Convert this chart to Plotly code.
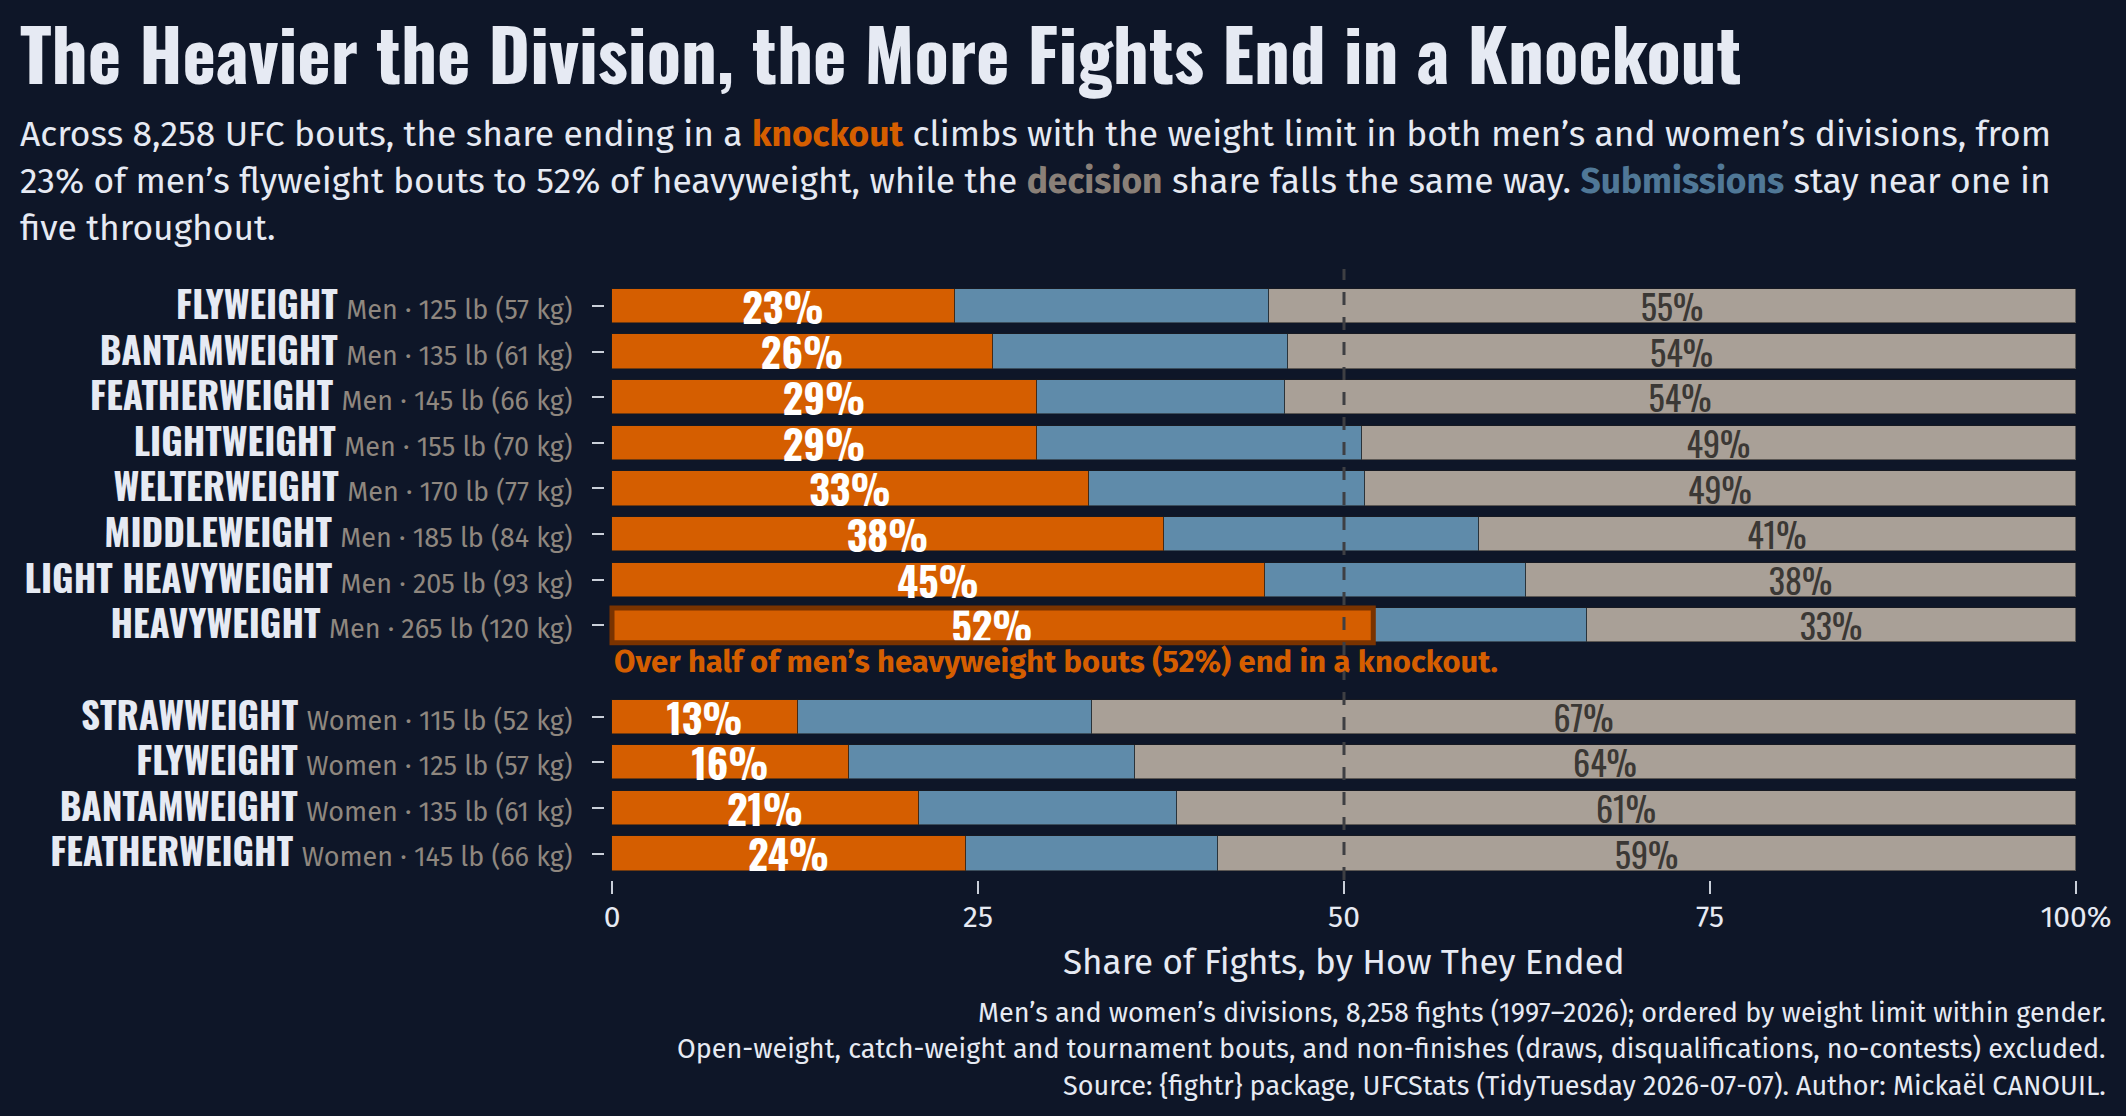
import plotly.graph_objects as go

# ---------------- data ----------------
division = ["FLYWEIGHT", "BANTAMWEIGHT", "FEATHERWEIGHT", "LIGHTWEIGHT", "WELTERWEIGHT",
            "MIDDLEWEIGHT", "LIGHT HEAVYWEIGHT", "HEAVYWEIGHT",
            "STRAWWEIGHT", "FLYWEIGHT", "BANTAMWEIGHT", "FEATHERWEIGHT"]
gender = ["Men"] * 8 + ["Women"] * 4
limit_lb = [125, 135, 145, 155, 170, 185, 205, 265, 115, 125, 135, 145]
limit_kg = [57, 61, 66, 70, 77, 84, 93, 120, 52, 57, 61, 66]
ko_pct = [23.4, 26.0, 29.0, 29.0, 32.6, 37.7, 44.6, 52.0, 12.7, 16.2, 21.0, 24.2]
sub_pct = [21.5, 20.2, 17.0, 22.2, 18.8, 21.5, 17.8, 14.6, 20.1, 19.5, 17.6, 17.2]
dec_pct = [55.1, 53.8, 54.0, 48.8, 48.6, 40.8, 37.6, 33.4, 67.2, 64.3, 61.4, 58.6]
x_ticks = [0, 25, 50, 75, 100]
x_ticklabels = ["0", "25", "50", "75", "100%"]
highlight_index = 7  # men's heavyweight

# ---------------- style ----------------
W, H = 2126, 1116
BG = "#0E1628"
TXT = "#E6EAF3"
MUTED = "#8F877F"
KO_C = "#D55E00"
SUB_C = "#5F8BAA"
DEC_C = "#A9A097"
DEC_TXT = "#3B3835"
TICK_C = "#C9CFD9"
COND = "Oswald, Liberation Sans Narrow, Roboto Condensed, DejaVu Sans Condensed, sans-serif"
BODY = "Fira Sans, Noto Sans, Open Sans, sans-serif"

ML, MR, MT, MB = 605, 43, 269, 236
PW, PH = W - ML - MR, H - MT - MB


def px_x(px):
    return (px - ML) / PW


def px_y(py):
    return (H - MB - py) / PH


# row positions: women block separated from men block by one empty slot
pos = []
for i, g in enumerate(gender):
    pos.append(i + (1 if g == "Women" else 0))

ticktext = [
    f"<b>{d}</b> <span style=\"font-family:{BODY};font-size:27px;color:{MUTED};font-weight:normal\">"
    f"{g} · {lb} lb ({kg} kg)</span>"
    for d, g, lb, kg in zip(division, gender, limit_lb, limit_kg)
]

fig = go.Figure()
outline = dict(color="rgba(30,30,30,0.55)", width=1)
BW = 0.75
fig.add_trace(go.Bar(
    y=pos, x=ko_pct, orientation="h", marker=dict(color=KO_C, line=outline),
    width=BW, text=[f"{round(v)}%" for v in ko_pct], textposition="inside",
    insidetextanchor="middle", constraintext="none",
    textfont=dict(family=COND, size=40, color="#FFFFFF", weight="bold"),
    name="Knockout", showlegend=False))
fig.add_trace(go.Bar(
    y=pos, x=sub_pct, orientation="h", marker=dict(color=SUB_C, line=outline),
    width=BW, name="Submission", showlegend=False))
fig.add_trace(go.Bar(
    y=pos, x=dec_pct, orientation="h", marker=dict(color=DEC_C, line=outline),
    width=BW, text=[f"{round(v)}%" for v in dec_pct], textposition="inside",
    insidetextanchor="middle", constraintext="none",
    textfont=dict(family=COND, size=34, color=DEC_TXT),
    name="Decision", showlegend=False))

hp = pos[highlight_index]
fig.add_shape(type="rect", xref="x", yref="y", x0=0, x1=ko_pct[highlight_index],
              y0=hp - 0.38, y1=hp + 0.38, line=dict(color="#7A3300", width=5),
              fillcolor="rgba(0,0,0,0)", layer="above")
fig.add_shape(type="line", xref="x", yref="paper", x0=50, x1=50, y0=0, y1=1,
              line=dict(color="#3E3F43", width=3, dash="13px,12px"), layer="above")

fig.add_annotation(xref="x", yref="y", x=0, y=hp + 0.8, xanchor="left", yanchor="middle",
                   showarrow=False,
                   text=f"<b>Over half of men’s heavyweight bouts ({round(ko_pct[highlight_index])}%) end in a knockout.</b>",
                   font=dict(family=BODY, size=31, color=KO_C))

# title & subtitle
fig.add_annotation(xref="paper", yref="paper", x=px_x(18), y=px_y(52), xanchor="left",
                   yanchor="middle", showarrow=False,
                   text="<b>The Heavier the Division, the More Fights End in a Knockout</b>",
                   font=dict(family=COND, size=71, color=TXT))
sub_lines = [
    f"Across 8,258 UFC bouts, the share ending in a <b><span style=\"color:{KO_C}\">knockout</span></b> "
    "climbs with the weight limit in both men’s and women’s divisions, from",
    f"23% of men’s flyweight bouts to 52% of heavyweight, while the <b><span style=\"color:#8A8078\">decision</span></b> "
    f"share falls the same way. <b><span style=\"color:#507897\">Submissions</span></b> stay near one in",
    "five throughout.",
]
for line, yy in zip(sub_lines, [134, 181, 228]):
    fig.add_annotation(xref="paper", yref="paper", x=px_x(18), y=px_y(yy), xanchor="left",
                       yanchor="middle", showarrow=False, text=line,
                       font=dict(family=BODY, size=35.4, color=TXT))

cap_lines = [
    "Men’s and women’s divisions, 8,258 fights (1997–2026); ordered by weight limit within gender.",
    "Open-weight, catch-weight and tournament bouts, and non-finishes (draws, disqualifications, no-contests) excluded.",
    "Source: {fightr} package, UFCStats (TidyTuesday 2026-07-07). Author: Mickaël CANOUIL.",
]
for line, yy in zip(cap_lines, [1013, 1049, 1086]):
    fig.add_annotation(xref="paper", yref="paper", x=px_x(2108), y=px_y(yy), xanchor="right",
                       yanchor="middle", showarrow=False, text=line,
                       font=dict(family=BODY, size=27, color=TXT))

fig.add_annotation(xref="paper", yref="paper", x=px_x((612 + 2076) / 2), y=px_y(962),
                   xanchor="center", yanchor="middle", showarrow=False,
                   text="Share of Fights, by How They Ended",
                   font=dict(family=BODY, size=35, color=TXT))

fig.update_layout(
    width=W, height=H, barmode="stack", bargap=0,
    paper_bgcolor=BG, plot_bgcolor=BG,
    margin=dict(l=ML, r=MR, t=MT, b=MB, pad=0),
    xaxis=dict(range=[-0.478, 100.478], tickvals=x_ticks, ticktext=x_ticklabels,
               showgrid=False, zeroline=False, showline=False,
               ticks="outside", ticklen=13, tickwidth=2, tickcolor=TICK_C,
               ticklabelstandoff=-3,
               tickfont=dict(family=BODY, size=30, color=TXT)),
    yaxis=dict(range=[12.58, -0.81], tickvals=pos, ticktext=ticktext,
               showgrid=False, zeroline=False, showline=False,
               ticks="outside", ticklen=12, tickwidth=2, tickcolor=TICK_C,
               ticklabelstandoff=12,
               tickfont=dict(family=COND, size=37, color=TXT)),
    font=dict(family=BODY, color=TXT),
)

fig.write_html("out.html")
